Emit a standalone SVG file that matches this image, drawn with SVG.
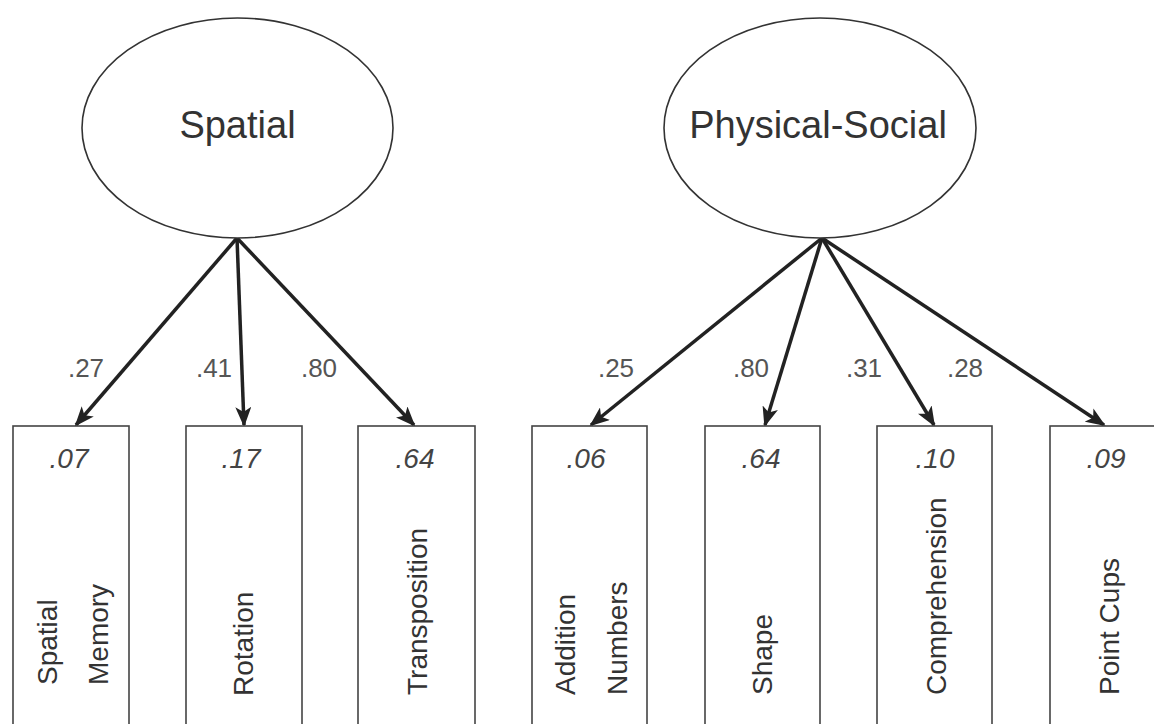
<svg xmlns="http://www.w3.org/2000/svg" width="1154" height="724" viewBox="0 0 1154 724">
<style>
.lat{fill:#fff;stroke:#333;stroke-width:1.6}
.box{fill:#fff;stroke:#444;stroke-width:1.6}
.latt{font-family:"Liberation Sans",Arial,sans-serif;font-size:38px;fill:#333;text-anchor:middle}
.val{font-family:"Liberation Sans",Arial,sans-serif;font-size:28px;font-style:italic;fill:#444;text-anchor:middle}
.obs{font-family:"Liberation Sans",Arial,sans-serif;font-size:28px;fill:#333}
.ld{font-family:"Liberation Sans",Arial,sans-serif;font-size:26px;fill:#555;text-anchor:middle}
.arr{stroke:#222;stroke-width:3.5;fill:none;marker-end:url(#ah)}
</style>
<defs>
<marker id="ah" viewBox="0 0 20 16" refX="18" refY="8" markerWidth="20" markerHeight="16" markerUnits="userSpaceOnUse" orient="auto">
<path d="M0,0 L20,8 L0,16 L5,8 z" fill="#222"/>
</marker>
</defs>
<rect width="1154" height="724" fill="#fff"/>
<g id="connectors">
<line class="arr" x1="237" y1="238" x2="76" y2="425"/>
<line class="arr" x1="237" y1="238" x2="244" y2="425"/>
<line class="arr" x1="237" y1="238" x2="414" y2="425"/>
<line class="arr" x1="822" y1="238" x2="591" y2="425"/>
<line class="arr" x1="822" y1="238" x2="765" y2="425"/>
<line class="arr" x1="822" y1="238" x2="934" y2="425"/>
<line class="arr" x1="822" y1="238" x2="1104" y2="425"/>
<text class="ld" x="86" y="377">.27</text>
<text class="ld" x="214" y="377">.41</text>
<text class="ld" x="319" y="377">.80</text>
<text class="ld" x="616" y="377">.25</text>
<text class="ld" x="751" y="377">.80</text>
<text class="ld" x="864" y="377">.31</text>
<text class="ld" x="965" y="377">.28</text>
</g>
<g id="spatial">
<ellipse class="lat" cx="237.5" cy="128" rx="155.5" ry="110"/>
<text class="latt" x="237.5" y="138">Spatial</text>
</g>
<g id="physical-social">
<ellipse class="lat" cx="820" cy="128" rx="156" ry="110"/>
<text class="latt" x="818" y="138">Physical-Social</text>
</g>
<g id="spatial-memory">
<rect class="box" x="13" y="426" width="116" height="320"/>
<text class="val" x="69" y="468">.07</text>
<text class="obs" transform="translate(57,685) rotate(-90)">Spatial</text>
<text class="obs" transform="translate(108,685) rotate(-90)">Memory</text>
</g>
<g id="rotation">
<rect class="box" x="186" y="426" width="116" height="320"/>
<text class="val" x="241" y="468">.17</text>
<text class="obs" transform="translate(253,696) rotate(-90)">Rotation</text>
</g>
<g id="transposition">
<rect class="box" x="358" y="426" width="117" height="320"/>
<text class="val" x="415" y="468">.64</text>
<text class="obs" transform="translate(427,695) rotate(-90)">Transposition</text>
</g>
<g id="addition-numbers">
<rect class="box" x="532" y="426" width="115" height="320"/>
<text class="val" x="586" y="468">.06</text>
<text class="obs" transform="translate(575,695) rotate(-90)">Addition</text>
<text class="obs" transform="translate(627,695) rotate(-90)">Numbers</text>
</g>
<g id="shape">
<rect class="box" x="705" y="426" width="115" height="320"/>
<text class="val" x="761" y="468">.64</text>
<text class="obs" transform="translate(772,695) rotate(-90)">Shape</text>
</g>
<g id="comprehension">
<rect class="box" x="877" y="426" width="115" height="320"/>
<text class="val" x="935" y="468">.10</text>
<text class="obs" transform="translate(946,695) rotate(-90)">Comprehension</text>
</g>
<g id="point-cups">
<rect class="box" x="1050" y="426" width="115" height="320"/>
<text class="val" x="1106" y="468">.09</text>
<text class="obs" transform="translate(1119,695) rotate(-90)">Point Cups</text>
</g>
</svg>
